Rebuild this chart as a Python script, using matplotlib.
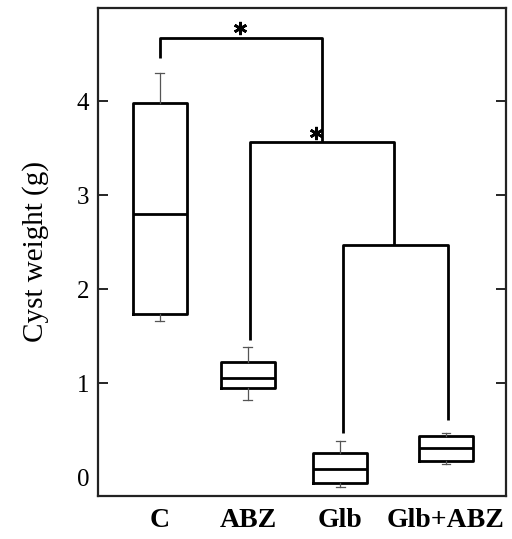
import matplotlib
matplotlib.use("Agg")
import matplotlib.pyplot as plt

plt.rcParams["font.family"] = ["Liberation Serif", "DejaVu Serif"]

# --------------------------------
# Data
# --------------------------------
groups = ["C", "ABZ", "Glb", "Glb+ABZ"]
positions = [1.0, 2.0, 3.05, 4.25]

q1 = [1.74, 0.95, -0.06, 0.17]
med = [2.80, 1.05, 0.09, 0.31]
q3 = [3.98, 1.22, 0.26, 0.44]
whislo = [1.66, 0.82, -0.11, 0.14]
whishi = [4.30, 1.38, 0.38, 0.47]

# significance brackets: height, left x, left foot, right x, right foot
bracket_y = [4.67, 3.57, 2.47]
bracket_left = [1.0, 2.02, 3.08]
bracket_left_foot = [4.46, 1.46, 0.47]
bracket_right = [2.84, 3.66, 4.27]
bracket_right_foot = [3.57, 2.47, 0.61]
star_x = [1.91, 2.77]
star_y = [4.78, 3.66]

# --------------------------------
# Figure
# --------------------------------
fig = plt.figure(figsize=(5.12, 5.39), dpi=100)
ax = fig.add_axes([0.191, 0.080, 0.797, 0.905])

stats = []
for i in range(len(groups)):
    stats.append(dict(med=med[i], q1=q1[i], q3=q3[i],
                      whislo=whislo[i], whishi=whishi[i], label=groups[i]))

ax.bxp(
    stats,
    positions=positions,
    widths=0.61,
    showfliers=False,
    boxprops=dict(color="black", linewidth=2.0),
    medianprops=dict(color="black", linewidth=2.0),
    whiskerprops=dict(color="#555555", linewidth=0.9),
    capprops=dict(color="#555555", linewidth=0.9),
    capwidths=0.1,
)

# brackets
for i in range(len(bracket_y)):
    ax.plot(
        [bracket_left[i], bracket_left[i], bracket_right[i], bracket_right[i]],
        [bracket_left_foot[i], bracket_y[i], bracket_y[i], bracket_right_foot[i]],
        color="black", linewidth=2.0, solid_capstyle="butt",
    )

# significance stars
ax.plot(star_x, star_y, linestyle="none", marker=(6, 2, 0),
        markersize=9.5, markeredgewidth=1.9, color="black")

# axes
ax.set_xlim(0.295, 4.93)
ax.set_ylim(-0.20, 4.99)

ax.set_xticks(positions)
ax.set_xticklabels(groups, fontsize=20, fontweight="bold")
ax.tick_params(axis="x", length=0, pad=9)

ax.set_yticks([0, 1, 2, 3, 4])
ax.tick_params(axis="y", direction="in", length=7, width=1.2,
               labelsize=18, pad=6, right=True)
ax.yaxis.get_major_ticks()[0].tick1line.set_visible(False)
ax.yaxis.get_major_ticks()[0].tick2line.set_visible(False)

ax.set_ylabel("Cyst weight (g)", fontsize=21, labelpad=20)

for s in ax.spines.values():
    s.set_linewidth(1.6)
    s.set_color("#222222")

fig.savefig("out.png", dpi=100)
